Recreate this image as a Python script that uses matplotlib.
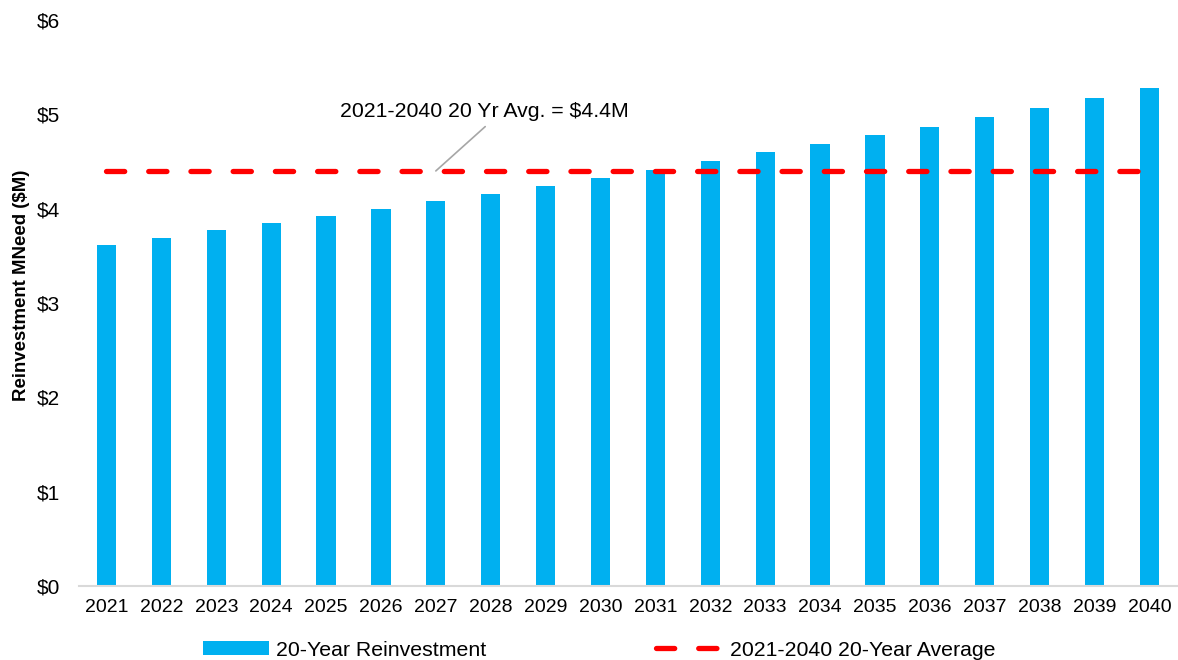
import matplotlib
matplotlib.use("Agg")
import matplotlib.pyplot as plt
from matplotlib.ticker import FuncFormatter

plt.rcParams['font.family'] = ['Liberation Sans', 'DejaVu Sans']

# data ($M)
years = [str(y) for y in range(2021, 2041)]
reinvestment = [3.62, 3.69, 3.77, 3.85, 3.92, 4.00, 4.08, 4.16, 4.24, 4.33,
                4.41, 4.51, 4.60, 4.69, 4.78, 4.87, 4.97, 5.07, 5.17, 5.28]
avg_value = 4.4
average = [avg_value] * len(years)

bar_color = '#00B0F0'
line_color = '#FF0000'

fig = plt.figure(figsize=(11.78, 6.6), dpi=100)
ax = fig.add_axes([0.0671, 0.1121, 0.9319, 0.8576])

x = list(range(len(years)))
bars = ax.bar(x, reinvestment, width=0.35, color=bar_color,
              label='20-Year Reinvestment', zorder=2)
line, = ax.plot(x, average, color=line_color, lw=3.8, linestyle=(0, (3.45, 4.55)),
                dash_capstyle='round', label='2021-2040 20-Year Average', zorder=3)

ax.set_xlim(-0.5, len(years) - 0.5)
ax.set_ylim(0, 6)
ax.set_xticks(x)
ax.set_xticklabels(years, fontsize=14)
ax.set_yticks(range(0, 7))
ax.yaxis.set_major_formatter(FuncFormatter(lambda v, p: '${:.0f}'.format(v)))
ax.tick_params(axis='y', length=0, pad=13.5, labelsize=15)
ax.tick_params(axis='x', length=0, pad=9)

for s in ['top', 'right', 'left']:
    ax.spines[s].set_visible(False)
ax.spines['bottom'].set_color('#D9D9D9')
ax.spines['bottom'].set_linewidth(1.5)

# annotation with leader line
ax.text(6.89, 5.03, '2021-2040 20 Yr Avg. = ${:.1f}M'.format(avg_value),
        ha='center', va='center', fontsize=15.3)
ax.annotate('', xy=(6.0, avg_value), xytext=(6.9, 4.87),
            arrowprops=dict(arrowstyle='-', color='#A6A6A6', lw=1.2,
                            shrinkA=0, shrinkB=0))

fig.text(22 / 1178, 1 - 285 / 660, 'Reinvestment MNeed ($M)', rotation=90,
         ha='center', va='center', fontsize=13.4, fontweight='bold')

fig.legend([bars, line], ['20-Year Reinvestment', '2021-2040 20-Year Average'],
           loc='center', bbox_to_anchor=(599 / 1178, 1 - 650 / 660), ncol=2,
           frameon=False, fontsize=15.3, handlelength=3.1, handleheight=0.65,
           handletextpad=0.35, columnspacing=8.0, borderaxespad=0)

fig.savefig('out.png', dpi=100)
